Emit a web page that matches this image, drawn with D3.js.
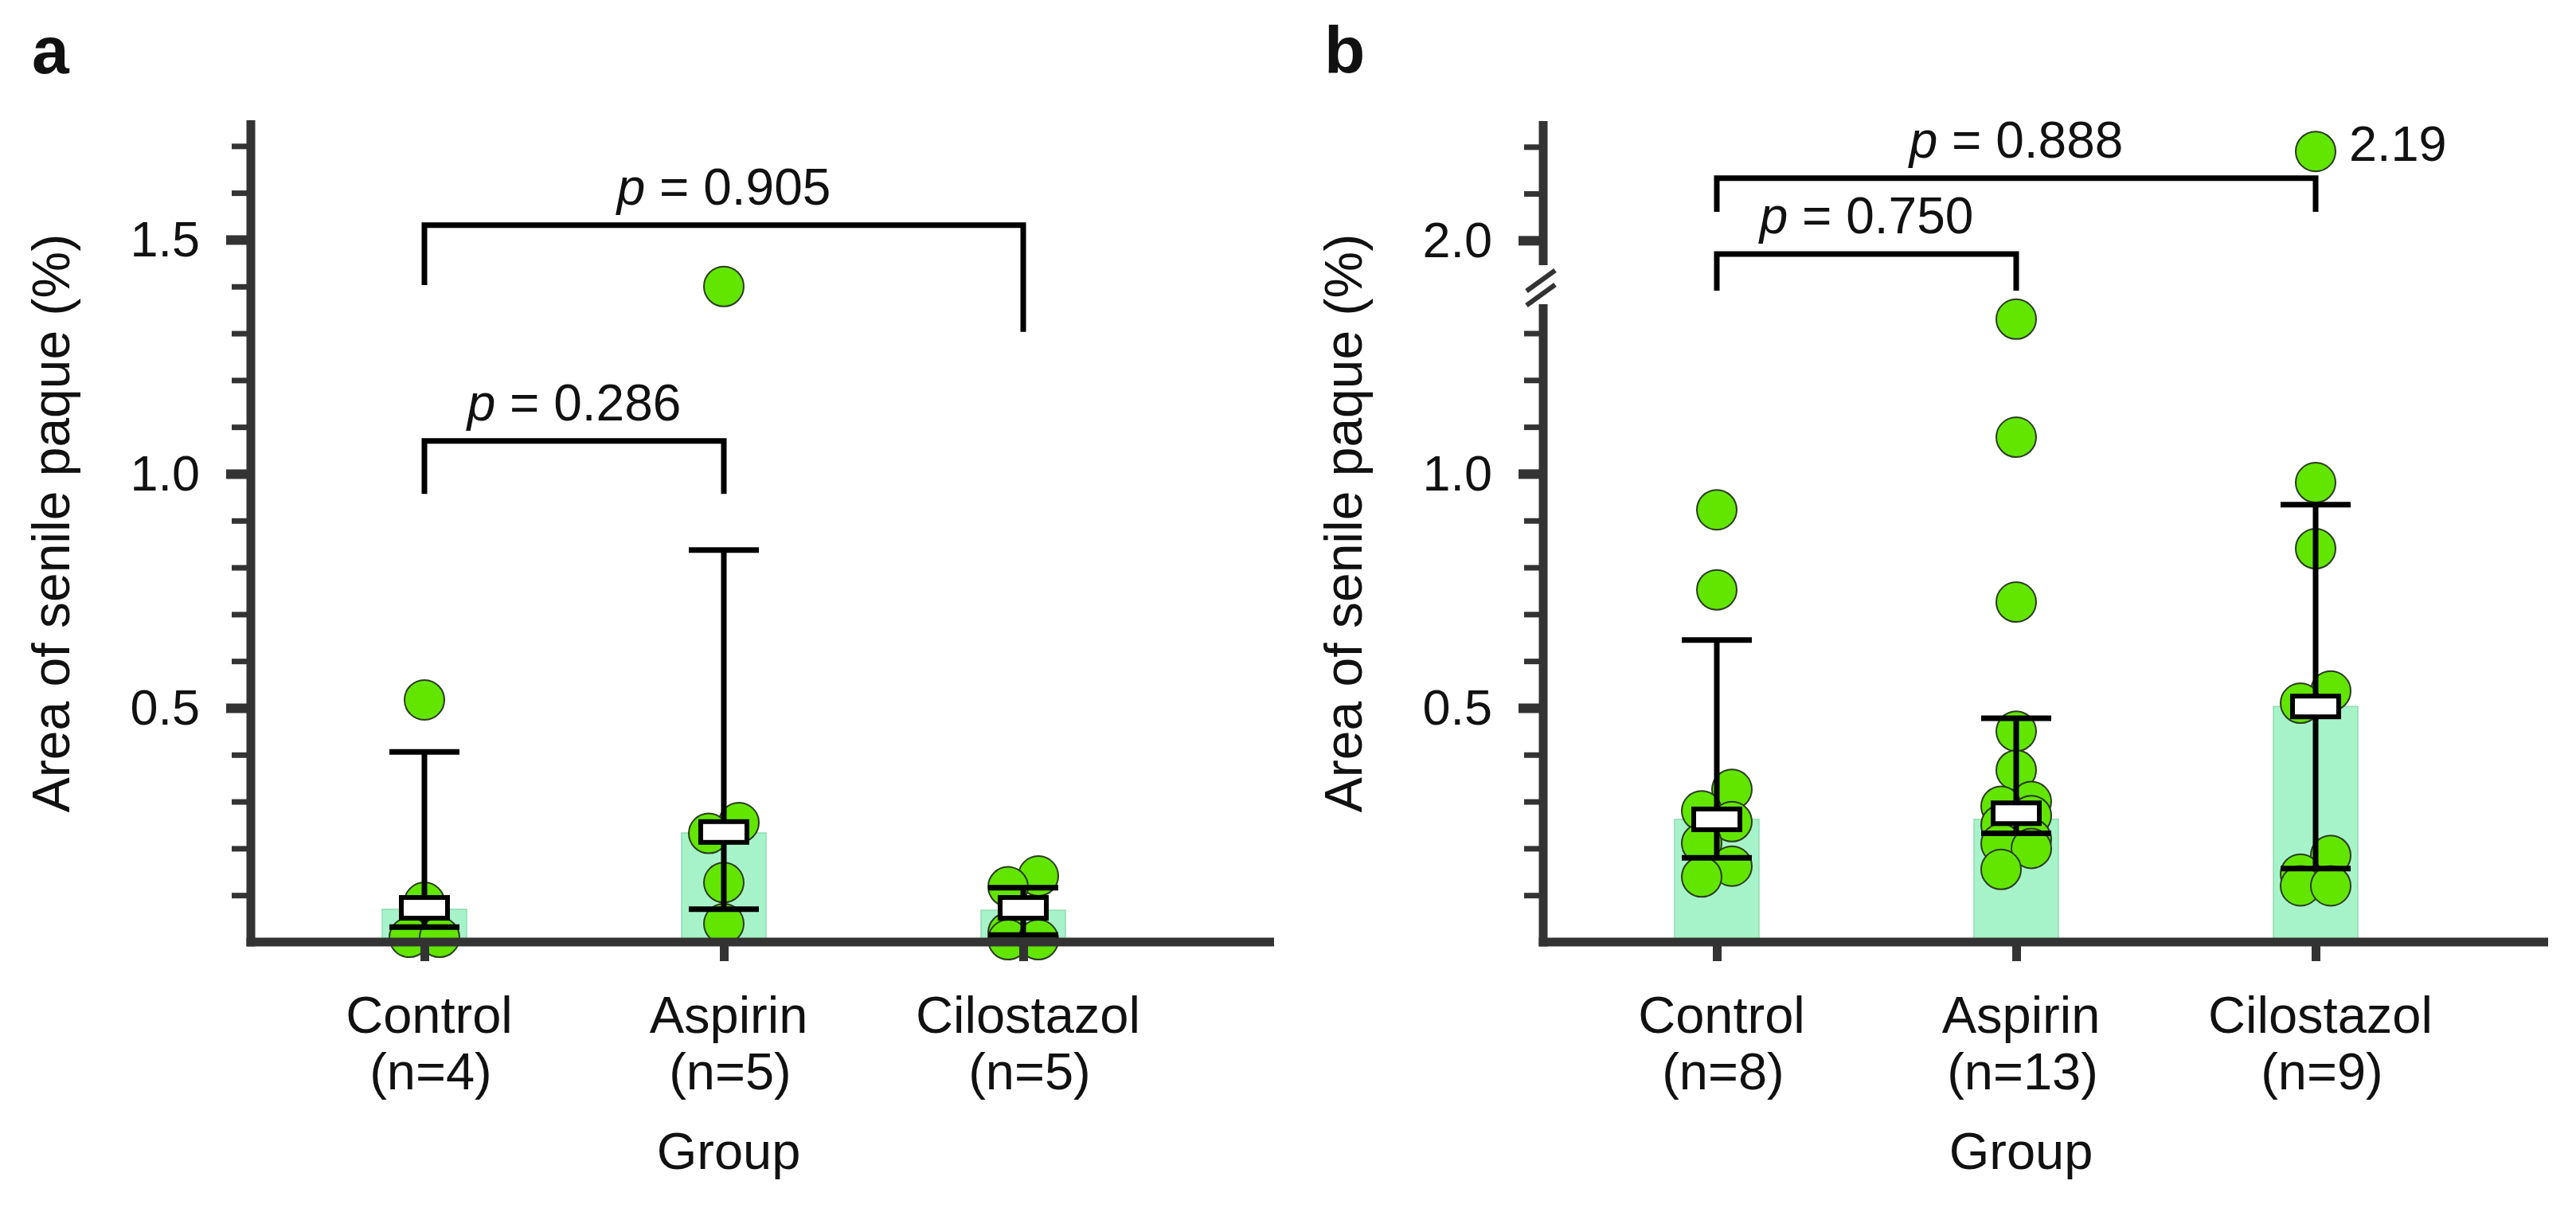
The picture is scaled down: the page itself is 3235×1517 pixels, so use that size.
<!DOCTYPE html>
<html>
<head>
<meta charset="utf-8">
<script src="https://cdn.jsdelivr.net/npm/d3@7"></script>
<style>
  body { margin: 0; background: #fff; }
  text { font-family: "Liberation Sans", Arial, sans-serif; fill: #111; }
</style>
</head>
<body>
<div id="chart"></div>
<script>
// ---- data ----
var groups = ["Control", "Aspirin", "Cilostazol"];
var nLabelsA = ["(n=4)", "(n=5)", "(n=5)"];
var nLabelsB = ["(n=8)", "(n=13)", "(n=9)"];

// panel a
var pointsA = [
  [0.517, 0.085, 0.01, 0.01],
  [1.40, 0.255, 0.232, 0.127, 0.039],
  [0.141, 0.118, 0.02, 0.005, 0.005]
];
var barA = [0.07, 0.233, 0.068];
var markA = [0.073, 0.235, 0.073];
var errLowA = [0.032, 0.07, 0.015];
var errHighA = [0.406, 0.837, 0.116];
var majorTicksA = [0.5, 1.0, 1.5];
var minorTicksA = [0.1, 0.2, 0.3, 0.4, 0.6, 0.7, 0.8, 0.9, 1.1, 1.2, 1.3, 1.4, 1.6, 1.7];
var pPairsA = [[0, 2], [0, 1]];
var pTopA = [1.531, 1.07];
var pFeetA = [[1.403, 1.303], [0.957, 0.957]];
var pValuesA = ["0.905", "0.286"];

// panel b
var pointsB = [
  [0.923, 0.752, 0.326, 0.28, 0.257, 0.211, 0.162, 0.139],
  [1.33, 1.078, 0.726, 0.45, 0.367, 0.30, 0.29, 0.27, 0.25, 0.22, 0.21, 0.20, 0.155],
  [2.19, 0.981, 0.84, 0.536, 0.51, 0.185, 0.145, 0.12, 0.12]
];
var barB = [0.262, 0.262, 0.503];
var markB = [0.262, 0.275, 0.503];
var errLowB = [0.18, 0.232, 0.157];
var errHighB = [0.645, 0.478, 0.934];
var majorTicksB = [0.5, 1.0, 2.0];
var minorTicksB = [0.1, 0.2, 0.3, 0.4, 0.6, 0.7, 0.8, 0.9, 1.1, 1.2, 1.3, 2.1, 2.2];
var pPairsB = [[0, 1], [0, 2]];
var pTopB = [1.971, 2.133];
var pFeetB = [[1.565, 1.565], [2.061, 2.061]];
var pValuesB = ["0.750", "0.888"];
var labelledPointB = 2.19;

// ---- layout ----
var svgWidth = 3235, svgHeight = 1517;
var axisY = 1183;
var axisColor = "#333333";
var dotR = 25;

var svg = d3.select("#chart").append("svg")
  .attr("width", svgWidth)
  .attr("height", svgHeight)
  .attr("viewBox", `0 0 ${svgWidth} ${svgHeight}`);

svg.append("rect").attr("width", svgWidth).attr("height", svgHeight).attr("fill", "#fff");

// alternate overlapping dots left/right of the centre, isolated ones stay centred
function spread(vals, y) {
  var pts = vals.map(v => ({v: v, py: y(v), dx: 0}));
  var sorted = pts.slice().sort((a, b) => a.v - b.v);
  var near = 1.55 * dotR;
  var side = -1;
  sorted.forEach(function(p, i) {
    var prev = sorted[i - 1], next = sorted[i + 1];
    var nearPrev = prev && Math.abs(prev.py - p.py) < near;
    var nearNext = next && Math.abs(next.py - p.py) < near;
    if (!nearPrev) side = -1;
    if (nearPrev || nearNext) {
      p.dx = side * 19;
      side = -side;
    }
  });
  return pts;
}

function drawPanel(o) {
  var g = svg.append("g");
  var x = d3.scalePoint().domain(groups).range([o.x0 + 218, o.x0 + 970]);
  var y = o.y;

  // bars
  g.selectAll(".bar").data(o.bar).enter().append("rect")
    .attr("x", (d, i) => x(groups[i]) - 53)
    .attr("width", 106)
    .attr("y", d => y(d))
    .attr("height", d => axisY - y(d))
    .attr("fill", "#a7f3c9")
    .attr("stroke", "#93dcb2")
    .attr("stroke-width", 1.5);

  // dots
  o.points.forEach(function(vals, i) {
    var pts = spread(vals, y);
    g.append("g").selectAll("circle").data(pts).enter().append("circle")
      .attr("cx", d => x(groups[i]) + d.dx)
      .attr("cy", d => d.py)
      .attr("r", dotR)
      .attr("fill", "#62e600")
      .attr("stroke", "#2b3a22")
      .attr("stroke-width", 2);
  });

  // error bars
  groups.forEach(function(gr, i) {
    var cx = x(gr);
    var eb = g.append("g").attr("stroke", "#000").attr("stroke-width", 7);
    eb.append("line").attr("x1", cx).attr("x2", cx).attr("y1", y(o.lo[i])).attr("y2", y(o.hi[i]));
    [o.lo[i], o.hi[i]].forEach(function(v) {
      eb.append("line").attr("x1", cx - 44).attr("x2", cx + 44).attr("y1", y(v)).attr("y2", y(v));
    });
    g.append("rect")
      .attr("x", cx - 29).attr("width", 58)
      .attr("y", y(o.mark[i]) - 13).attr("height", 26)
      .attr("fill", "#fff").attr("stroke", "#000").attr("stroke-width", 6);
  });

  // y axis ticks
  var minorAxis = d3.axisLeft(y).tickValues(o.minor).tickSize(24).tickFormat("");
  var gMinor = g.append("g").attr("transform", `translate(${o.x0},0)`).call(minorAxis);
  gMinor.select(".domain").remove();
  gMinor.selectAll("line").attr("stroke", axisColor).attr("stroke-width", 7);

  var majorAxis = d3.axisLeft(y).tickValues(o.major).tickSize(31).tickPadding(33).tickFormat(d3.format(".1f"));
  var gMajor = g.append("g").attr("transform", `translate(${o.x0},0)`).call(majorAxis);
  gMajor.select(".domain").remove();
  gMajor.selectAll("line").attr("stroke", axisColor).attr("stroke-width", 12);
  gMajor.selectAll("text").attr("font-size", 63).attr("fill", "#111")
    .style("font-family", "'Liberation Sans', Arial, sans-serif");

  // y axis line segments
  o.segments.forEach(function(s, k) {
    g.append("line")
      .attr("x1", o.x0).attr("x2", o.x0)
      .attr("y1", k === 0 ? axisY + 5.5 : y(s[0]))
      .attr("y2", y(s[1]))
      .attr("stroke", axisColor).attr("stroke-width", 11);
  });

  // x axis
  var xAxis = d3.axisBottom(x).tickSize(24).tickFormat("");
  var gx = g.append("g").attr("transform", `translate(0,${axisY})`).call(xAxis);
  gx.select(".domain").remove();
  gx.selectAll("line").attr("stroke", axisColor).attr("stroke-width", 11);
  g.append("line")
    .attr("x1", o.x0 - 5.5).attr("x2", o.xEnd)
    .attr("y1", axisY).attr("y2", axisY)
    .attr("stroke", axisColor).attr("stroke-width", 11);

  // category labels
  groups.forEach(function(gr, i) {
    g.append("text").attr("x", x(gr) + 6).attr("y", 1297)
      .attr("text-anchor", "middle").attr("font-size", 65).text(gr);
    g.append("text").attr("x", x(gr) + 8).attr("y", 1368)
      .attr("text-anchor", "middle").attr("font-size", 65).text(o.nLabels[i]);
  });
  g.append("text").attr("x", x(groups[1]) + 6).attr("y", 1468)
    .attr("text-anchor", "middle").attr("font-size", 65).text("Group");

  // y title
  g.append("text")
    .attr("transform", `translate(${o.x0 - 228},657) rotate(-90)`)
    .attr("text-anchor", "middle").attr("font-size", 66)
    .text("Area of senile paque (%)");

  // panel letter
  g.append("text").attr("x", o.x0 - 275).attr("y", 92)
    .attr("font-size", 84).attr("font-weight", "bold").text(o.letter);

  // significance brackets
  o.pPairs.forEach(function(pair, k) {
    var xa = x(groups[pair[0]]), xb = x(groups[pair[1]]);
    var yt = y(o.pTop[k]);
    g.append("path")
      .attr("d", `M${xa},${y(o.pFeet[k][0])}V${yt}H${xb}V${y(o.pFeet[k][1])}`)
      .attr("fill", "none").attr("stroke", "#000").attr("stroke-width", 7);
    var t = g.append("text").attr("x", (xa + xb) / 2).attr("y", yt - 26)
      .attr("text-anchor", "middle").attr("font-size", 64);
    t.append("tspan").attr("font-style", "italic").text("p");
    t.append("tspan").text(" = " + o.pValues[k]);
  });

  return {x: x, y: y, g: g};
}

// panel a
var yA = d3.scaleLinear().domain([0, 1.755]).range([axisY, 151]);
drawPanel({
  x0: 315, xEnd: 1600, y: yA, letter: "a",
  points: pointsA, bar: barA, mark: markA, lo: errLowA, hi: errHighA,
  major: majorTicksA, minor: minorTicksA, segments: [[0, 1.755]],
  nLabels: nLabelsA, pPairs: pPairsA, pTop: pTopA, pFeet: pFeetA, pValues: pValuesA
});

// panel b, broken axis between 1.36 and 1.95
var yB = d3.scaleLinear().domain([0, 1.362, 1.947, 2.255]).range([axisY, 382, 333, 152]);
var pb = drawPanel({
  x0: 1938, xEnd: 3200, y: yB, letter: "b",
  points: pointsB, bar: barB, mark: markB, lo: errLowB, hi: errHighB,
  major: majorTicksB, minor: minorTicksB, segments: [[0, 1.362], [1.947, 2.255]],
  nLabels: nLabelsB, pPairs: pPairsB, pTop: pTopB, pFeet: pFeetB, pValues: pValuesB
});

// axis break marks
var yc = (yB(1.362) + yB(1.947)) / 2 + 4;
[-9, 9].forEach(function(off) {
  pb.g.append("line")
    .attr("x1", 1938 - 21).attr("y1", yc + off + 13)
    .attr("x2", 1938 + 15).attr("y2", yc + off - 13)
    .attr("stroke", axisColor).attr("stroke-width", 6);
});

// value label next to the off-scale point
pb.g.append("text")
  .attr("x", pb.x("Cilostazol") + 42)
  .attr("y", yB(labelledPointB) + 12)
  .attr("font-size", 63)
  .text(labelledPointB.toFixed(2));
</script>
</body>
</html>
